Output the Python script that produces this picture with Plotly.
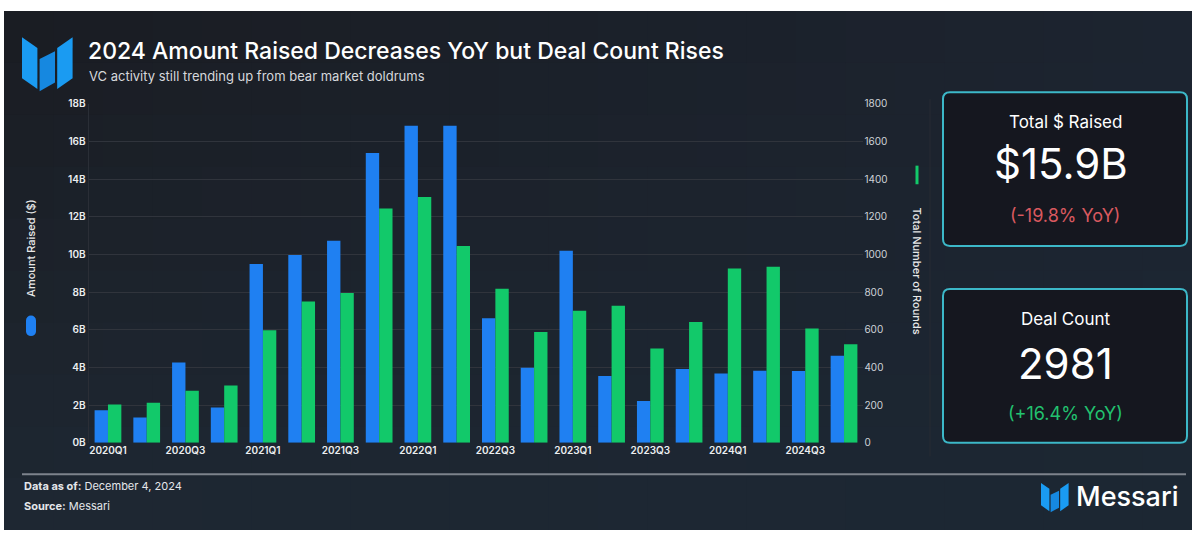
import plotly.graph_objects as go

# ---- data -------------------------------------------------------------
quarters = [
    "2020Q1", "2020Q2", "2020Q3", "2020Q4",
    "2021Q1", "2021Q2", "2021Q3", "2021Q4",
    "2022Q1", "2022Q2", "2022Q3", "2022Q4",
    "2023Q1", "2023Q2", "2023Q3", "2023Q4",
    "2024Q1", "2024Q2", "2024Q3", "2024Q4",
]
amount_raised_b = [
    1.73, 1.35, 4.27, 1.87,
    9.50, 9.97, 10.73, 15.40,
    16.84, 16.84, 6.62, 3.99,
    10.20, 3.55, 2.22, 3.92,
    3.68, 3.83, 3.81, 4.63,
]
deal_count = [
    204, 213, 277, 305,
    598, 751, 796, 1245,
    1306, 1046, 819, 588,
    702, 728, 501, 642,
    926, 935, 607, 524,
]
left_ticks = [0, 2, 4, 6, 8, 10, 12, 14, 16, 18]
left_tick_text = [f"{v}B" for v in left_ticks]
right_ticks = [0, 200, 400, 600, 800, 1000, 1200, 1400, 1600, 1800]
x_tick_labels = quarters[::2]

# ---- canvas helpers ---------------------------------------------------
W, H = 1196, 535


def fx(x):
    return x / W


def fy(y):
    return 1 - y / H


def hex_rgb(h):
    h = h.lstrip("#")
    return tuple(int(h[i:i + 2], 16) for i in (0, 2, 4))


def mix(a, b, t):
    return tuple(a[i] + (b[i] - a[i]) * t for i in range(3))


BLUE = "#1f80f2"
GREEN = "#12c96a"
TEAL = "#3cb8c8"
FONT = "Inter"

shapes = []

# background panel with a soft two-way gradient
tl, tr = hex_rgb("#1a1c22"), hex_rgb("#1c2430")
bl, br = hex_rgb("#1e2833"), hex_rgb("#1c2733")
x0, x1, y0, y1 = 4, 1192, 5, 535
nx, ny = 24, 10
for i in range(nx):
    for j in range(ny):
        tx = (i + 0.5) / nx
        ty = (j + 0.5) / ny
        c = mix(mix(tl, tr, tx), mix(bl, br, tx), ty)
        shapes.append(dict(
            type="rect", xref="paper", yref="paper", layer="below",
            x0=fx(x0 + (x1 - x0) * i / nx),
            x1=fx(min(x1, x0 + (x1 - x0) * (i + 1) / nx + 1)),
            y0=fy(y0 + (y1 - y0) * j / ny),
            y1=fy(min(y1, y0 + (y1 - y0) * (j + 1) / ny + 1)),
            line=dict(width=0),
            fillcolor="rgb(%d,%d,%d)" % tuple(int(round(v)) for v in c),
        ))


def poly(points, color):
    d = "M " + " L ".join(f"{fx(px):.5f},{fy(py):.5f}" for px, py in points) + " Z"
    return dict(type="path", xref="paper", yref="paper", path=d,
                fillcolor=color, line=dict(width=0))


def rounded_box(xa, ya, xb, yb, r, color, fill):
    p = [
        f"M {fx(xa + r):.5f},{fy(ya):.5f}",
        f"L {fx(xb - r):.5f},{fy(ya):.5f}",
        f"Q {fx(xb):.5f},{fy(ya):.5f} {fx(xb):.5f},{fy(ya + r):.5f}",
        f"L {fx(xb):.5f},{fy(yb - r):.5f}",
        f"Q {fx(xb):.5f},{fy(yb):.5f} {fx(xb - r):.5f},{fy(yb):.5f}",
        f"L {fx(xa + r):.5f},{fy(yb):.5f}",
        f"Q {fx(xa):.5f},{fy(yb):.5f} {fx(xa):.5f},{fy(yb - r):.5f}",
        f"L {fx(xa):.5f},{fy(ya + r):.5f}",
        f"Q {fx(xa):.5f},{fy(ya):.5f} {fx(xa + r):.5f},{fy(ya):.5f}",
        "Z",
    ]
    return dict(type="path", xref="paper", yref="paper", path=" ".join(p),
                fillcolor=fill, line=dict(color=color, width=2))


def logo(x, y, s, color, shade):
    # three folded panels forming the "M" mark
    pts = [
        [(0, 0), (14, 10), (14, 48), (0, 38)],
        [(16, 20), (30, 13), (30, 42), (16, 50)],
        [(32, 10), (46, 0), (46, 38), (32, 48)],
    ]
    out = []
    for k, panel in enumerate(pts):
        out.append(poly([(x + px * s, y + py * s) for px, py in panel],
                        shade if k == 1 else color))
    return out


shapes += logo(22, 32, 1.1, "#1a9bf2", "#1688e0")
shapes += logo(1041, 487, 0.6, "#1a9bf2", "#1688e0")

# stat cards
shapes.append(rounded_box(943, 88, 1187, 245, 7, TEAL, "#15171f"))
shapes.append(rounded_box(943, 289, 1187, 446, 7, TEAL, "#15171f"))

# footer rule
shapes.append(dict(type="line", xref="paper", yref="paper",
                   x0=fx(22), x1=fx(1186), y0=fy(478), y1=fy(478),
                   line=dict(color="#7d838c", width=2)))

# faint vertical separator on the right of the chart
shapes.append(dict(type="line", xref="paper", yref="paper",
                   x0=fx(930), x1=fx(930), y0=fy(95), y1=fy(460),
                   line=dict(color="#262b33", width=1)))

# legend keys next to the axis titles
shapes.append(dict(type="rect", xref="paper", yref="paper",
                   x0=fx(26), x1=fx(36), y0=fy(332), y1=fy(321),
                   fillcolor=BLUE, line=dict(width=0)))
shapes.append(dict(type="circle", xref="paper", yref="paper",
                   x0=fx(26), x1=fx(36), y0=fy(326), y1=fy(316),
                   fillcolor=BLUE, line=dict(width=0)))
shapes.append(dict(type="circle", xref="paper", yref="paper",
                   x0=fx(26), x1=fx(36), y0=fy(337), y1=fy(327),
                   fillcolor=BLUE, line=dict(width=0)))
shapes.append(dict(type="line", xref="paper", yref="paper",
                   x0=fx(917), x1=fx(917), y0=fy(163), y1=fy(182),
                   line=dict(color=GREEN, width=3)))

# ---- figure -----------------------------------------------------------
fig = go.Figure()
fig.add_trace(go.Bar(
    x=quarters, y=amount_raised_b, name="Amount Raised ($)",
    marker=dict(color=BLUE, line=dict(width=0)),
    width=0.345, offset=-0.345, yaxis="y",
))
fig.add_trace(go.Bar(
    x=quarters, y=deal_count, name="Total Number of Rounds",
    marker=dict(color=GREEN, line=dict(width=0)),
    width=0.345, offset=0.0, yaxis="y2",
))

annotations = []


def text(s, x, y, size, color="#ffffff", xanchor="left", weight=400, angle=0, family=FONT):
    annotations.append(dict(
        text=s, x=fx(x), y=fy(y), xref="paper", yref="paper",
        xanchor=xanchor, yanchor="middle", showarrow=False, textangle=angle,
        font=dict(family=family, size=size, color=color, weight=weight),
    ))


text("2024 Amount Raised Decreases YoY but Deal Count Rises", 86, 46, 23, weight=500)
text("VC activity still trending up from bear market doldrums", 87, 71, 13, color="#d6d8dc")

text("Amount Raised ($)", 31, 247, 11, color="#e8e8e8", xanchor="center", weight=500, angle=-90)
text("Total Number of Rounds", 917, 270, 11, color="#e8e8e8", xanchor="center", weight=500, angle=90)

text("Total $ Raised", 1065, 118, 17, xanchor="center")
text("$15.9B", 1061, 161, 42, xanchor="center")
text("(-19.8% YoY)", 1065, 214, 18, color="#d9595f", xanchor="center")
text("Deal Count", 1065, 320, 17, xanchor="center")
text("2981", 1065, 365, 42, xanchor="center")
text("(+16.4% YoY)", 1065, 416, 18, color="#22c26f", xanchor="center")

text("<b>Data as of:</b> December 4, 2024", 22, 490, 11, color="#e4e6ea")
text("<b>Source:</b> Messari", 22, 510, 11, color="#e4e6ea")
text("Messari", 1074, 501, 27, weight=500)

fig.update_layout(
    width=W, height=H,
    margin=dict(l=0, r=0, t=0, b=0),
    paper_bgcolor="#ffffff",
    plot_bgcolor="rgba(0,0,0,0)",
    showlegend=False,
    barmode="group",
    shapes=shapes,
    annotations=annotations,
    xaxis=dict(
        domain=[fx(88.6), fx(863.4)],
        type="category",
        tickmode="array", tickvals=x_tick_labels, ticktext=x_tick_labels,
        tickfont=dict(family=FONT, size=10, color="#eceef0", weight=600),
        showgrid=False, zeroline=False, showline=False, ticks="",
    ),
    yaxis=dict(
        domain=[fy(446), fy(100)],
        range=[0, 18],
        tickmode="array", tickvals=left_ticks, ticktext=left_tick_text,
        tickfont=dict(family=FONT, size=10, color="#eceef0", weight=600),
        showgrid=True, gridcolor="#30343c", gridwidth=1,
        zeroline=False, showline=True, linecolor="#2a2e36", linewidth=1, ticks="",
    ),
    yaxis2=dict(
        overlaying="y", side="right", anchor="x",
        range=[0, 1800],
        tickmode="array", tickvals=right_ticks,
        tickfont=dict(family=FONT, size=10, color="#cfd3d8"),
        showgrid=False, zeroline=False, showline=False, ticks="",
    ),
)

fig.write_html("out.html")
